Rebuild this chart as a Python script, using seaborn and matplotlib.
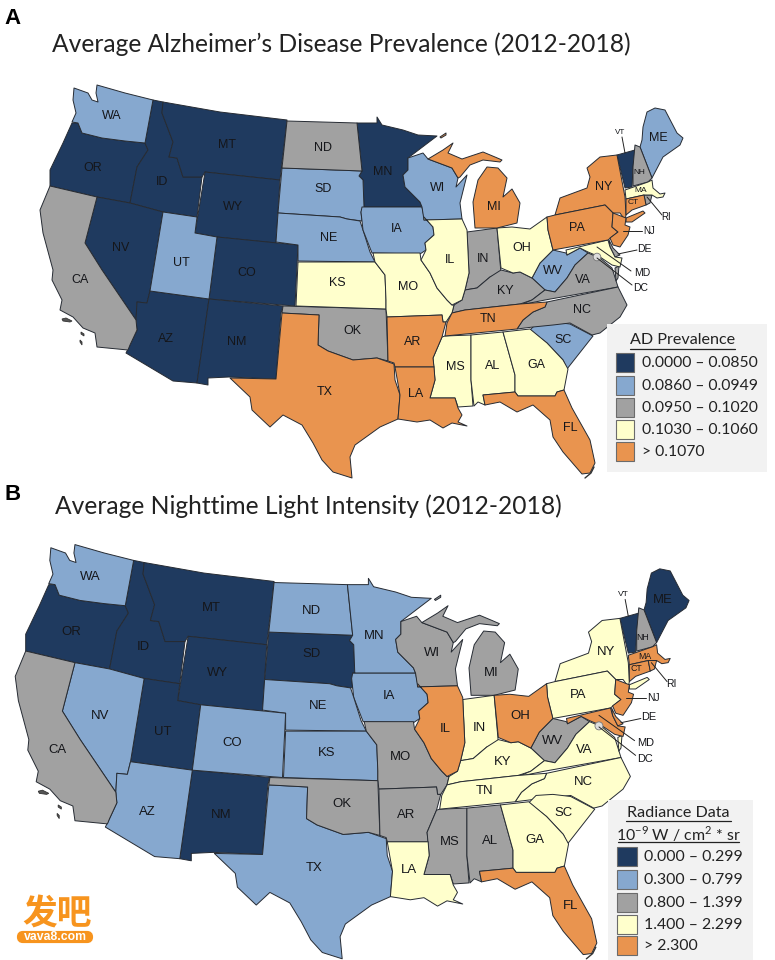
import matplotlib
matplotlib.use("Agg")
import matplotlib.pyplot as plt
from matplotlib.patches import Rectangle, Circle, FancyBboxPatch
from matplotlib.transforms import Affine2D
import seaborn as sns

WA = [(74,88),(73,100),(76,113),(72,122),(78,123),(82,133),(102,138),(125,141),(145,143),(153,100),(125,93),(97,85),(96,93),(98,102),(92,100),(88,93)]
OR = [(72,123),(78,123),(82,133),(102,138),(125,141),(145,143),(148,150),(137,167),(130,203),(97,197),(50,186),(50,170),(63,143)]
CA = [(50,186),(97,197),(85,243),(102,270),(136,320),(137,330),(130,345),(128,350),(97,347),(95,333),(83,328),(73,317),(60,310),(62,300),(52,280),(53,270),(43,233),(40,210)]
NV = [(97,197),(130,203),(163,212),(150,291),(147,303),(137,302),(136,320),(102,270),(85,243)]
ID = [(153,100),(163,102),(162,113),(173,142),(169,157),(177,158),(183,177),(202,177),(197,217),(163,212),(130,203),(137,167),(148,150),(145,143)]
MT = [(163,102),(220,112),(287,120),(280,180),(205,172),(202,177),(183,177),(177,158),(169,157),(173,142),(162,113)]
WY = [(205,172),(280,180),(276,243),(217,237),(195,233)]
UT = [(163,212),(197,217),(195,233),(217,237),(209,299),(150,291)]
CO = [(217,237),(298,245),(295,306),(209,299)]
NM = [(209,299),(283,306),(281,313),(276,379),(229,377),(208,378),(208,385),(197,383)]
AZ = [(150,291),(209,299),(197,383),(173,381),(126,353),(130,345),(137,330),(136,320),(137,302),(147,303)]
TX = [(282,313),(319,315),(318,345),(328,351),(353,360),(377,358),(394,364),(395,380),(400,395),(398,419),(380,427),(355,445),(350,457),(352,478),(333,472),(322,460),(313,443),(302,425),(283,415),(270,427),(252,410),(250,397),(230,378),(276,379)]
OK = [(283,306),(386,309),(388,361),(377,358),(353,360),(328,351),(318,345),(319,315),(282,313)]
KS = [(298,262),(375,262),(385,275),(386,300),(386,309),(296,306)]
NE = [(278,213),(340,217),(347,219),(360,221),(363,230),(370,252),(375,262),(298,261),(298,245),(276,242)]
SD = [(282,168),(362,171),(359,176),(363,180),(364,207),(361,212),(362,221),(347,219),(340,217),(278,213)]
ND = [(287,121),(357,123),(362,171),(282,168)]
MN = [(357,123),(377,123),(377,117),(382,125),(403,130),(418,135),(437,136),(408,158),(408,170),(403,175),(405,187),(420,202),(422,207),(362,207),(364,207),(363,180),(359,176),(362,171)]
IA = [(362,207),(422,207),(424,217),(433,227),(434,235),(425,243),(426,250),(420,254),(372,253),(363,230),(361,212)]
WI = [(408,158),(423,153),(428,159),(452,168),(458,178),(456,187),(467,175),(460,203),(462,219),(424,220),(422,207),(420,202),(405,187),(403,175),(408,170)]
MI_UP = [(428,159),(443,150),(453,143),(448,153),(462,159),(483,152),(495,157),(502,160),(500,162),(483,160),(470,165),(460,177),(458,178),(452,168)]
MI_LP = [(475,228),(473,202),(478,180),(487,167),(498,168),(507,178),(503,197),(512,189),(520,203),(517,223),(497,228)]
IL = [(424,220),(462,219),(467,230),(469,273),(465,290),(462,300),(452,305),(447,300),(437,288),(430,273),(421,260),(426,250),(425,243),(434,235),(433,227),(424,217)]
IN = [(467,232),(497,228),(501,273),(490,277),(477,288),(465,290),(469,273)]
OH = [(497,228),(512,227),(530,229),(547,217),(548,230),(553,250),(540,263),(532,278),(520,272),(513,273),(501,268)]
WV = [(553,250),(566,253),(567,255),(580,248),(588,253),(575,265),(567,278),(555,292),(545,290),(532,278),(540,263)]
PA = [(547,217),(555,215),(605,205),(613,213),(612,227),(618,232),(608,240),(553,250),(548,230)]
NY = [(555,215),(560,198),(587,188),(590,177),(587,168),(600,157),(617,155),(625,197),(626,215),(625,220),(620,213),(613,213),(605,205)]
LONG_ISLAND = [(626,218),(643,211),(645,213),(632,222),(626,222)]
VT = [(617,155),(635,150),(633,167),(632,187),(625,188)]
NH = [(635,145),(640,147),(652,178),(648,182),(633,186),(633,167)]
ME = [(643,127),(647,112),(655,108),(665,110),(677,133),(683,138),(680,145),(663,157),(652,178),(640,147),(642,140)]
MA = [(625,190),(648,182),(652,180),(653,188),(660,194),(665,193),(663,197),(657,198),(652,195),(644,195),(626,199)]
CT = [(626,199),(644,195),(646,205),(632,210),(626,215)]
RI = [(644,195),(652,195),(650,203),(646,205)]
NJ = [(613,213),(626,218),(625,225),(630,227),(628,235),(620,247),(613,245),(610,238),(618,232),(612,227)]
DE = [(609,240),(613,248),(620,255),(615,257),(610,247)]
MD = [(566,250),(608,240),(610,247),(615,257),(622,258),(620,267),(612,265),(600,257),(588,252),(580,248),(567,255)]
VA = [(588,253),(600,258),(612,268),(618,287),(545,300),(520,305),(532,300),(545,290),(555,292),(567,278),(575,265)]
VA_SHORE = [(615,268),(619,266),(618,278),(616,281)]
KY = [(465,290),(477,288),(490,277),(501,270),(513,273),(520,272),(532,278),(545,290),(532,300),(520,304),(465,310),(452,313),(454,305),(462,300)]
TN = [(465,310),(520,304),(547,302),(545,307),(533,312),(523,320),(517,329),(445,336),(447,323),(452,313)]
NC = [(547,302),(618,287),(627,305),(620,317),(600,333),(592,335),(570,323),(553,325),(533,327),(517,329),(523,320),(533,312),(545,307)]
SC = [(530,330),(537,323),(553,322),(570,324),(593,336),(567,369),(563,360),(547,343)]
GA = [(503,332),(530,329),(547,343),(563,360),(568,369),(564,390),(557,392),(555,396),(518,396),(515,392),(515,375)]
AL = [(471,335),(503,332),(515,375),(515,392),(483,395),(485,405),(478,402),(474,406),(471,380)]
MS = [(445,336),(471,335),(471,380),(473,406),(458,407),(455,398),(430,398),(435,380),(433,358),(442,337)]
AR = [(387,317),(442,315),(443,322),(446,322),(442,337),(433,358),(434,367),(395,367),(394,363),(388,361)]
MO = [(373,253),(420,253),(421,260),(430,273),(437,288),(447,300),(452,305),(454,305),(452,313),(446,322),(443,322),(442,315),(387,317),(386,309),(386,300),(385,275),(375,262)]
LA = [(395,367),(434,367),(435,380),(430,398),(455,398),(458,408),(462,415),(458,422),(467,426),(452,423),(443,428),(430,420),(417,422),(398,419),(400,395)]
FL = [(483,395),(515,392),(518,396),(555,396),(557,392),(564,390),(572,408),(590,440),(595,463),(590,473),(582,474),(563,452),(553,437),(550,420),(533,405),(517,412),(500,402),(485,405)]
ISLE_ROYALE = [(440,137),(446,133),(446,135),(441,138)]

OUTLINES = {"WA":[WA],"OR":[OR],"CA":[CA],"NV":[NV],"ID":[ID],"MT":[MT],"WY":[WY],"UT":[UT],"CO":[CO],"NM":[NM],
            "AZ":[AZ],"TX":[TX],"OK":[OK],"KS":[KS],"NE":[NE],"SD":[SD],"ND":[ND],"MN":[MN],"IA":[IA],"WI":[WI],
            "MI":[MI_UP,MI_LP,ISLE_ROYALE],"IL":[IL],"IN":[IN],"OH":[OH],"WV":[WV],"PA":[PA],"NY":[NY,LONG_ISLAND],
            "VT":[VT],"NH":[NH],"ME":[ME],"MA":[MA],"CT":[CT],"RI":[RI],"NJ":[NJ],"DE":[DE],"MD":[MD],"VA":[VA,VA_SHORE],
            "KY":[KY],"TN":[TN],"NC":[NC],"SC":[SC],"GA":[GA],"AL":[AL],"MS":[MS],"AR":[AR],"MO":[MO],"LA":[LA],"FL":[FL]}

# ---- class membership of each state, one list per legend class ----
AD_CLASSES = [
    ["OR","ID","MT","WY","NV","CO","AZ","NM","MN","VT"],
    ["WA","UT","SD","NE","IA","WI","WV","SC","ME"],
    ["ND","CA","OK","IN","KY","VA","NC","NH","RI","DE"],
    ["KS","MO","IL","OH","MS","AL","GA","MA","MD"],
    ["TX","AR","LA","TN","FL","MI","NY","PA","NJ","CT"],
]
NTL_CLASSES = [
    ["OR","ID","MT","WY","SD","UT","NM","VT","ME"],
    ["WA","ND","MN","IA","NE","KS","CO","NV","AZ","TX"],
    ["CA","WI","MI","MO","OK","AR","MS","AL","WV","NH"],
    ["NY","PA","IN","KY","VA","NC","SC","TN","GA","LA"],
    ["IL","OH","FL","MA","CT","RI","NJ","MD","DE"],
]
AD_LABELS = ["0.0000 – 0.0850","0.0860 – 0.0949","0.0950 – 0.1020","0.1030 – 0.1060","> 0.1070"]
NTL_LABELS = ["0.000 – 0.299","0.300 – 0.799","0.800 – 1.399","1.400 – 2.299","> 2.300"]
CLASS_COLORS = ["#1F3A5F","#86A8CF","#A1A1A1","#FFFFCC","#E9944F"]

LABEL_POS = {"WA":(112,116),"OR":(93,168),"CA":(80,280),"NV":(121,248),"ID":(162,182),"MT":(227,145),"WY":(233,207),
             "UT":(181,263),"CO":(247,273),"AZ":(166,339),"NM":(237,342),"ND":(323,148),"SD":(323,189),"NE":(329,238),
             "KS":(337,283),"OK":(352,331),"TX":(325,392),"MN":(383,172),"IA":(397,229),"MO":(408,287),"AR":(413,342),
             "LA":(416,394),"WI":(438,188),"IL":(450,260),"IN":(483,259),"MI":(494,207),"OH":(522,248),"KY":(505,291),
             "TN":(488,319),"MS":(455,367),"AL":(493,366),"GA":(536,365),"SC":(563,340),"FL":(570,428),"NC":(582,310),
             "VA":(583,280),"WV":(553,271),"PA":(577,228),"NY":(604,187),"ME":(658,138)}
SMALL_POS = {"NH":(639,173),"MA":(641,191),"CT":(633,203)}
CALLOUTS = [("VT",(620,132),(622,137),(625,153),5.8),("NJ",(649,231),(642,231),(623,231),7),("RI",(666,217),(662,215),(647,197),7),
            ("DE",(644,249),(637,250),(618,254),7.5),("MD",(642,273),(631,271),(597,247),7.5),("DC",(641,288),(632,285),(597,258),7.5)]
ISLANDS = [[(62,319),(66,318),(72,321),(70,322),(63,321)],[(81,332),(84,334),(84,336),(81,334)],[(80,340),(82,342),(82,345),(80,342)]]
KEYS = [(594,467),(591,473),(585,478)]
DC_POS = (597,257)

sns.set_theme(style="white")
plt.rcParams["font.family"] = ["Lato", "DejaVu Sans"]
plt.rcParams["mathtext.fontset"] = "custom"
plt.rcParams["mathtext.rm"] = "Lato"
palette = sns.color_palette(CLASS_COLORS)
EDGE = "#262b33"

fig = plt.figure(figsize=(7.75, 9.6), dpi=100)
ax = fig.add_axes([0, 0, 1, 1])
ax.set_xlim(0, 775)
ax.set_ylim(960, 0)
ax.axis("off")


def draw_map(classes, placement, txt_scale):
    tr = placement + ax.transData
    for colour, members in zip(palette, classes):
        for st in members:
            for poly in OUTLINES[st]:
                xs, ys = zip(*poly)
                ax.fill(xs, ys, facecolor=colour, edgecolor=EDGE, linewidth=0.7, joinstyle="round", transform=tr)
    for isl in ISLANDS:
        xs, ys = zip(*isl)
        ax.fill(xs, ys, facecolor="#555555", edgecolor="#333333", linewidth=0.6, transform=tr)
    ax.plot(*zip(*KEYS), color="#333333", lw=1.0, transform=tr)
    ax.add_patch(Circle(DC_POS, 3.8, facecolor="#DDDDDD", edgecolor="#777777", lw=0.6, transform=tr))
    lab = dict(family="Liberation Sans", ha="center", va="center", color="#15161a", transform=tr)
    for st, (x, y) in LABEL_POS.items():
        ax.text(x, y, st, fontsize=9 * txt_scale, **lab)
    for st, (x, y) in SMALL_POS.items():
        ax.text(x, y, st, fontsize=6 * txt_scale, **lab)
    for st, (x, y), p0, p1, fs in CALLOUTS:
        ax.text(x, y, st, fontsize=fs * txt_scale, **lab)
        ax.plot([p0[0], p1[0]], [p0[1], p1[1]], color="#222222", lw=0.7, transform=tr)


draw_map(AD_CLASSES, Affine2D(), 1.0)
draw_map(NTL_CLASSES, Affine2D().scale(1.048, 1.054).translate(-26.7, 455), 1.05)

# panel letters and titles
ax.text(4, 19, "A", family="Liberation Sans", fontweight="bold", fontsize=16, color="black", va="center")
ax.text(4, 495, "B", family="Liberation Sans", fontweight="bold", fontsize=16, color="black", va="center")
ax.text(52, 44, "Average Alzheimer’s Disease Prevalence (2012-2018)", fontsize=17.7, color="#222222", va="center")
ax.text(55, 506, "Average Nighttime Light Intensity (2012-2018)", fontsize=17.7, color="#222222", va="center")

# legend A
ax.add_patch(Rectangle((607, 324), 160, 148, facecolor="#F2F2F2", edgecolor="none", zorder=3))
ax.text(683, 340, "AD Prevalence", fontsize=11.6, ha="center", va="center", color="#222222", zorder=4)
ax.plot([630, 735], [349, 349], color="#222222", lw=0.9, zorder=4)
for y, c, t in zip([353, 376, 398, 420, 442], palette, AD_LABELS):
    ax.add_patch(Rectangle((616, y), 18, 19, facecolor=c, edgecolor="#6b6b6b", lw=0.8, zorder=4))
    ax.text(642, y + 10, t, fontsize=11.3, va="center", color="#222222", zorder=4)

# legend B
ax.add_patch(Rectangle((608, 800), 145, 160, facecolor="#F2F2F2", edgecolor="none", zorder=3))
ax.text(678, 813, "Radiance Data", fontsize=11.6, ha="center", va="center", color="#222222", zorder=4)
ax.plot([626, 731], [821, 821], color="#222222", lw=0.9, zorder=4)
ax.text(678, 834, r"10$^{-9}$ W / cm$^{2}$ * sr", fontsize=11.4, ha="center", va="center", color="#222222", zorder=4)
ax.plot([618, 739], [842, 842], color="#222222", lw=0.9, zorder=4)
for y, c, t in zip([847, 870, 893, 915, 936], palette, NTL_LABELS):
    ax.add_patch(Rectangle((617, y), 20, 19, facecolor=c, edgecolor="#6b6b6b", lw=0.8, zorder=4))
    ax.text(644, y + 10, t, fontsize=11.45, va="center", color="#222222", zorder=4)

# watermark
ax.text(57, 914, "发吧", family=["Noto Sans CJK SC", "DejaVu Sans"], fontweight="bold", fontsize=25,
        color="#F7941E", ha="center", va="center", zorder=5)
ax.add_patch(FancyBboxPatch((19, 933), 72, 8, boxstyle="round,pad=0,rounding_size=4", mutation_aspect=1,
                            facecolor="#F7941E", edgecolor="#F7941E", lw=3, zorder=5))
ax.text(55, 937, "vava8.com", family="Liberation Sans", fontweight="bold", fontsize=8.8, color="white",
        ha="center", va="center", zorder=6)

fig.savefig("out.png", dpi=100, facecolor="white")
